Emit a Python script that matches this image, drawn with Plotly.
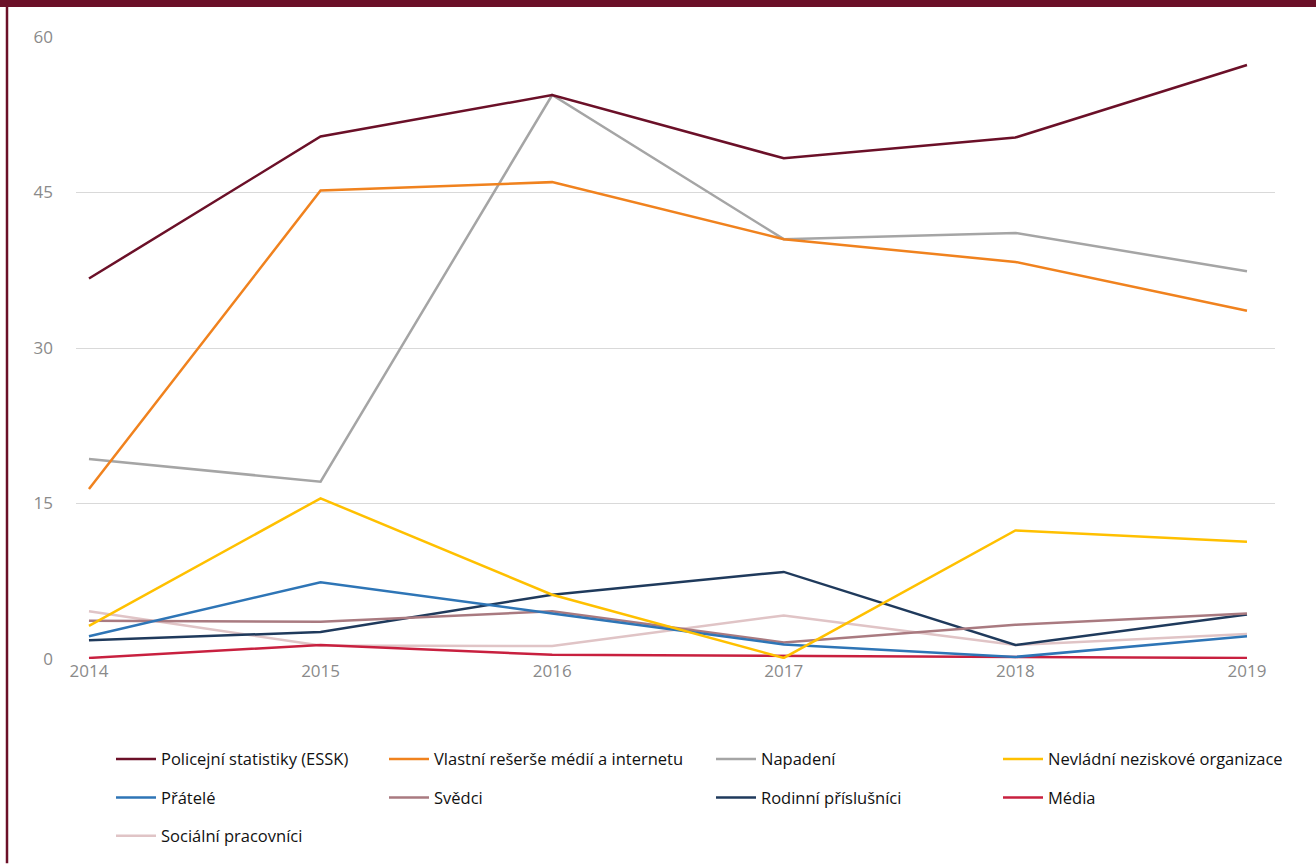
import plotly.graph_objects as go

years = [2014, 2015, 2016, 2017, 2018, 2019]

policejni = [36.7, 50.4, 54.4, 48.3, 50.3, 57.3]
vlastni = [16.4, 45.2, 46.0, 40.5, 38.3, 33.6]
napadeni = [19.3, 17.1, 54.4, 40.5, 41.1, 37.4]
nevladni = [3.2, 15.5, 6.2, 0.1, 12.4, 11.3]
pratele = [2.2, 7.4, 4.4, 1.4, 0.2, 2.2]
svedci = [3.7, 3.6, 4.6, 1.6, 3.3, 4.4]
rodinni = [1.8, 2.6, 6.2, 8.4, 1.35, 4.3]
media = [0.1, 1.35, 0.4, 0.3, 0.2, 0.1]
socialni = [4.6, 1.3, 1.25, 4.2, 1.35, 2.4]

series = [
    ("Policejní statistiky (ESSK)", policejni, "#6B1028", "legend"),
    ("Přátelé", pratele, "#2E75B6", "legend"),
    ("Sociální pracovníci", socialni, "#E0C4C6", "legend"),
    ("Vlastní rešerše médií a internetu", vlastni, "#F0821E", "legend2"),
    ("Svědci", svedci, "#A97A80", "legend2"),
    ("Napadení", napadeni, "#A5A5A5", "legend3"),
    ("Rodinní příslušníci", rodinni, "#1F3A5C", "legend3"),
    ("Nevládní neziskové organizace", nevladni, "#FFC000", "legend4"),
    ("Média", media, "#C8203F", "legend4"),
]

draw_order = [
    "Sociální pracovníci", "Média", "Rodinní příslušníci", "Svědci", "Přátelé",
    "Nevládní neziskové organizace", "Napadení", "Vlastní rešerše médií a internetu",
    "Policejní statistiky (ESSK)",
]
by_name = {s[0]: s for s in series}
names = [s[0] for s in series]

fig = go.Figure()
for name in draw_order:
    n, vals, col, leg = by_name[name]
    fig.add_trace(go.Scatter(
        x=years, y=vals, name=n, mode="lines",
        line=dict(color=col, width=2.5),
        legend=leg, legendgroup=n,
        legendrank=names.index(n),
        hoverinfo="skip",
    ))

W, H = 1316, 866
L, R, T, B = 76, 41, 37, 205
pw, ph = W - L - R, H - T - B

def px_x(x):
    return (x - L) / pw

def px_y(y):
    return (H - B - y) / ph

legend_common = dict(
    orientation="v", yanchor="top", xanchor="left",
    font=dict(family="Open Sans", size=16.5, color="#111111"),
    tracegroupgap=14, bgcolor="rgba(0,0,0,0)", itemwidth=40,
)

lx_shift = 6
ly = 744
fig.update_layout(
    width=W, height=H,
    margin=dict(l=L, r=R, t=T, b=B),
    plot_bgcolor="white", paper_bgcolor="white",
    xaxis=dict(
        range=[2013.944, 2019.121], tickmode="array", tickvals=years,
        ticktext=[str(y) for y in years], showgrid=False, zeroline=False,
        showline=False, ticks="", tickfont=dict(family="Open Sans", size=17, color="#8a8a8a"),
    ),
    yaxis=dict(
        range=[0, 60], tickmode="array", tickvals=[0, 15, 30, 45, 60],
        showgrid=True, gridcolor="#D9D9D9", gridwidth=1, zeroline=False,
        showline=False, ticks="", ticklabelstandoff=22,
        tickfont=dict(family="Open Sans", size=17, color="#8a8a8a"),
    ),
    showlegend=True,
    legend=dict(x=px_x(105 + lx_shift), y=px_y(ly), **legend_common),
    legend2=dict(x=px_x(378 + lx_shift), y=px_y(ly), **legend_common),
    legend3=dict(x=px_x(705 + lx_shift), y=px_y(ly), **legend_common),
    legend4=dict(x=px_x(992 + lx_shift), y=px_y(ly), **legend_common),
    shapes=[
        dict(type="rect", xref="paper", yref="paper",
             x0=px_x(0), x1=px_x(W), y0=px_y(7), y1=px_y(0),
             fillcolor="#6B1028", line=dict(width=0), layer="above"),
        dict(type="line", xref="paper", yref="paper",
             x0=px_x(7), x1=px_x(7), y0=px_y(H), y1=px_y(0),
             line=dict(color="#6B1028", width=2.5), layer="above"),
    ],
)

fig.write_html("out.html", config={"displayModeBar": False},
               post_script="document.body.style.margin='0px';")
